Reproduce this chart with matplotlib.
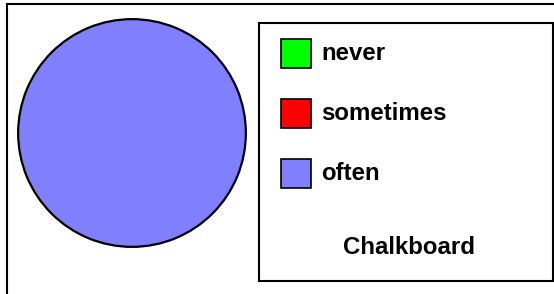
import matplotlib
matplotlib.use("Agg")
import matplotlib.pyplot as plt
from matplotlib.patches import Rectangle

categories = ["never", "sometimes", "often"]
values = [0, 0, 100]
colors = ["#00FF00", "#FF0000", "#8080FF"]
title = "Chalkboard"

W, H = 554, 294
fig = plt.figure(figsize=(W / 100, H / 100), dpi=100)
fig.patch.set_facecolor("white")

def fx(x):
    return x / W

def fy(y):
    return 1 - y / H

font = dict(family=["Liberation Sans", "DejaVu Sans"], fontsize=17.3, fontweight="bold", color="black")

# outer frame (extends beyond right/bottom)
fig.patches.append(Rectangle((fx(7), fy(320)), fx(600) - fx(7), fy(4) - fy(320),
                             transform=fig.transFigure, fill=False, edgecolor="black",
                             linewidth=1.5, zorder=0))

# pie
ax = fig.add_axes([fx(17), fy(248), fx(247) - fx(17), fy(18) - fy(248)])
nz = [(v, c) for v, c in zip(values, colors) if v > 0]
ax.pie([v for v, _ in nz], colors=[c for _, c in nz], startangle=90, counterclock=False,
       wedgeprops=dict(edgecolor="black", linewidth=1.6), radius=1.0)
ax.set_xlim(-1.01, 1.01)
ax.set_ylim(-1.01, 1.01)
ax.set_aspect("auto")
ax.axis("off")

# legend box
fig.patches.append(Rectangle((fx(259), fy(281)), fx(553) - fx(259), fy(23) - fy(281),
                             transform=fig.transFigure, fill=False, edgecolor="black",
                             linewidth=1.5, zorder=1))
for i, (cat, col) in enumerate(zip(categories, colors)):
    top = 39 + 60 * i
    fig.patches.append(Rectangle((fx(281), fy(top + 29)), fx(311) - fx(281), fy(top) - fy(top + 29),
                                 transform=fig.transFigure, facecolor=col, edgecolor="black",
                                 linewidth=1.2, zorder=2))
    fig.text(fx(321), fy(top + 15), cat, ha="left", va="center", **font)

fig.text(fx(409), fy(248), title, ha="center", va="center", **font)

fig.savefig("out.png", dpi=100, facecolor="white")
